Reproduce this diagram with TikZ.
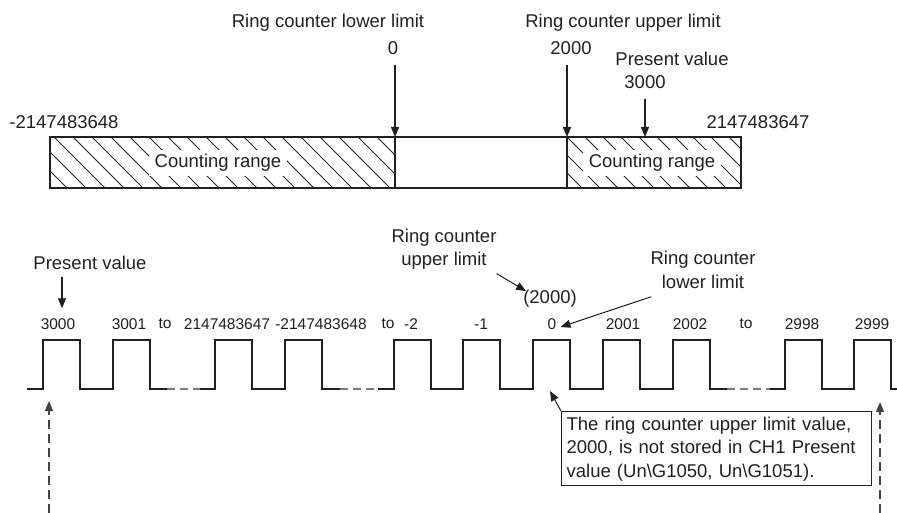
\documentclass[tikz,border=0pt]{standalone}
\usepackage{fontspec}
\setmainfont{Liberation Sans}
\usetikzlibrary{arrows.meta,positioning}
\definecolor{ink}{HTML}{231F20}
\definecolor{sub}{HTML}{7A7A7A}
\tikzset{
  lbl/.style={inner sep=2bp, font=\fontsize{18.5bp}{23.5bp}\selectfont, text=ink, align=center},
  tick/.style={lbl, font=\fontsize{15.5bp}{18bp}\selectfont},
  rng/.style={lbl, fill=white, inner xsep=6bp, inner ysep=4bp},
  memo/.style={lbl, draw=ink, line width=1.2bp, align=left, inner sep=5bp, text width=300bp},
  pt/.style={-{Triangle[length=10bp,width=8bp]}, line width=1.3bp, draw=ink},
  ret/.style={-{Triangle[length=10bp,width=8bp]}, line width=1.2bp, draw=ink!85,
              dash pattern=on 9bp off 5bp},
  bar/.style={line width=1.3bp, draw=ink},
  hatch/.style={line width=0.9bp, draw=ink},
  wave/.style={line width=1.3bp, draw=ink, line join=miter},
  gap/.style={line width=1.1bp, draw=sub, dash pattern=on 8bp off 5bp},
}

\begin{document}
\begin{tikzpicture}[x=1bp, y=-1bp]
    \useasboundingbox (0,0) rectangle (897,513);
    \begin{scope}
      \clip (50,137) rectangle (395,188);
      \foreach \k in {-22,-3,...,400} \draw[hatch] (\k,137) -- (\k+51,188);
    \end{scope}
    \begin{scope}
      \clip (567,137) rectangle (741,188);
      \foreach \k in {513,531,...,745} \draw[hatch] (\k,137) -- (\k+51,188);
    \end{scope}
    \draw[bar] (50,137) rectangle (741,188);
    \coordinate (barlow) at (395,137);
    \coordinate (barupp) at (567,137);
    \coordinate (barpv) at (645,137);
    \draw[bar] (barlow) -- +(0,51);
    \draw[bar] (barupp) -- +(0,51);
    \node[rng] (cr1) at (218,163) {Counting range};
    \node[rng] (cr2) at (652,163) {Counting range};
    \node[lbl] (lowlbl) at (328,23) {Ring counter lower limit};
    \node[lbl] (lowval) at (393,48) {0};
    \node[lbl] (upplbl) at (623,23) {Ring counter upper limit};
    \node[lbl] (uppval) at (571,48) {2000};
    \node[lbl] (pvlbl) at (672,59) {Present value};
    \node[lbl] (pvval) at (645,82) {3000};
    \node[lbl] (minval) at (64,122) {-2147483648};
    \node[lbl] (maxval) at (758,122) {2147483647};
    \draw[pt, shorten <=8bp] (lowval.south -| barlow) -- (barlow);
    \draw[pt, shorten <=8bp] (uppval.south -| barupp) -- (barupp);
    \draw[pt, shorten <=8bp] (pvval.south -| barpv) -- (barpv);

    \draw[wave] (27,389) foreach \r in {43,113}
      {-- (\r,389) -- (\r,340) -- (\r+37,340) -- (\r+37,389)} -- (167,389);
    \draw[gap] (167,389) -- (200,389);
    \draw[wave] (200,389) foreach \r in {215,285}
      {-- (\r,389) -- (\r,340) -- (\r+37,340) -- (\r+37,389)} -- (340,389);
    \draw[gap] (340,389) -- (378,389);
    \draw[wave] (378,389) foreach \r in {394,463,533,603,673}
      {-- (\r,389) -- (\r,340) -- (\r+37,340) -- (\r+37,389)} -- (727,389);
    \draw[gap] (727,389) -- (770,389);
    \draw[wave] (770,389) foreach \r in {785,854}
      {-- (\r,389) -- (\r,340) -- (\r+37,340) -- (\r+37,389)} -- (897,389);
    \foreach \t/\x [count=\i] in {3000/58, 3001/129, to/165, 2147483647/227,
        -2147483648/321, to/388, -2/411, -1/481, 0/552, 2001/623, 2002/690,
        to/746, 2998/802, 2999/872}
      \node[tick] (v\i) at (\x,324) {\t};

    \node[lbl] (pv) at (90,263) {Present value};
    \draw[pt, shorten <=5bp, shorten >=8bp] ([xshift=4bp]v1.north |- pv.south) -- ([xshift=4bp]v1.north);
    \node[lbl] (rcu) at (444,249) {Ring counter\\upper limit};
    \node[lbl] (ul) at (550,299) {(2000)};
    \draw[pt, line width=1bp] ([shift={(-2bp,-2bp)}]rcu.south east) -- ([shift={(5bp,-3bp)}]ul.north west);
    \node[lbl] (rcl) at (703,270) {Ring counter\\lower limit};
    \draw[pt, line width=1bp] ([shift={(3bp,-6bp)}]rcl.south west) -- ([shift={(2bp,-3bp)}]v9.east);

    \node[memo, anchor=north west] (memo) at (561,411)
      {The ring counter upper limit value,\\2000, is not stored in CH1 Present\\value (Un\textbackslash G1050, Un\textbackslash G1051).};
    \coordinate (zerolow) at (550,391);
    \draw[pt, line width=1bp] (memo.north west) -- (zerolow);

    \coordinate (fromlo) at (49,513);
    \coordinate (tolo) at (49,401);
    \coordinate (fromhi) at (880,513);
    \coordinate (tohi) at (880,402);
    \draw[ret] (fromlo) -- (tolo);
    \draw[ret] (fromhi) -- (tohi);
\end{tikzpicture}
\end{document}
